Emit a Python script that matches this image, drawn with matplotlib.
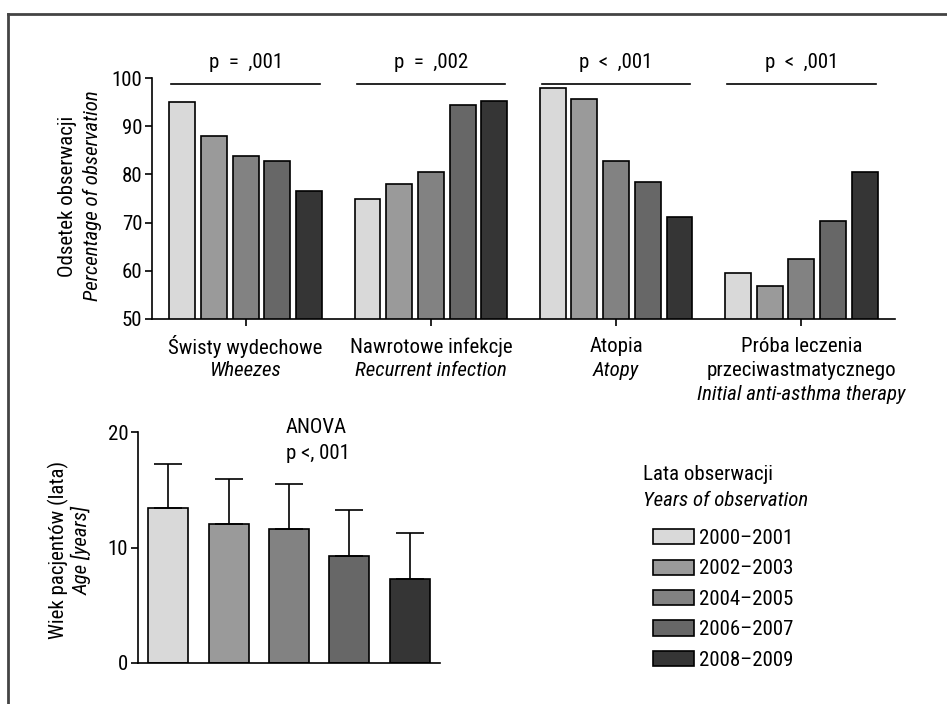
import numpy as np
import matplotlib
matplotlib.use("Agg")
import matplotlib.pyplot as plt
from matplotlib import font_manager as fm
from matplotlib.patches import Patch
from matplotlib.lines import Line2D
import matplotlib.transforms as mtransforms

# pick a narrow sans if one is installed, otherwise DejaVu a bit smaller
fonts = fm.fontManager.ttflist
names = {f.name for f in fonts}
narrow = None
for cand in ["Liberation Sans Narrow", "Roboto Condensed", "Open Sans Condensed", "Arial Narrow"]:
    if cand in names:
        narrow = cand
        break
fs = 15
if narrow:
    plt.rcParams['font.family'] = [narrow, 'DejaVu Sans']
elif any(f.name in ("Roboto", "DejaVu Sans", "Liberation Sans") and f.stretch == "condensed" for f in fonts):
    cond = [f.name for f in fonts if f.stretch == "condensed"][0]
    plt.rcParams['font.family'] = [cond, 'DejaVu Sans']
    plt.rcParams['font.stretch'] = 'condensed'
else:
    plt.rcParams['font.family'] = ['DejaVu Sans']
    fs = 13
plt.rcParams['font.size'] = fs

years = ["2000\u20132001", "2002\u20132003", "2004\u20132005", "2006\u20132007", "2008\u20132009"]
colors = ["#d9d9d9", "#9a9a9a", "#828282", "#676767", "#353535"]

cat_pl = [["\u015awisty wydechowe"], ["Nawrotowe infekcje"], ["Atopia"],
          ["Pr\u00f3ba leczenia", "przeciwastmatycznego"]]
cat_en = ["Wheezes", "Recurrent infection", "Atopy", "Initial anti-asthma therapy"]
p_labels = ["p  =  ,001", "p  =  ,002", "p  <  ,001", "p  <  ,001"]

# percentage per group, one list per observation period
pct = [
    [95.1, 75.0, 98.0, 59.6],
    [88.0, 78.1, 95.6, 56.9],
    [83.9, 80.6, 82.8, 62.4],
    [82.8, 94.5, 78.4, 70.4],
    [76.6, 95.2, 71.2, 80.4],
]

age_mean = [13.45, 12.07, 11.58, 9.27, 7.27]
age_sd = [3.8, 3.9, 3.9, 4.0, 4.0]

W, H = 947, 704
fig = plt.figure(figsize=(W / 100, H / 100), dpi=100)

def fx(px):
    return px / W

def fy(py):
    return 1 - py / H

# outer frame (top and left visible)
fig.add_artist(Line2D([fx(8), 1.0], [fy(14), fy(14)], color="#444444", lw=2))
fig.add_artist(Line2D([fx(8), fx(8)], [fy(14), 0.0], color="#444444", lw=2))

# ---- top chart ----
ax = fig.add_axes([fx(152), fy(319), fx(895) - fx(152), fy(78) - fy(319)])
x = np.arange(4)
step = 0.171
width = 0.14
for i in range(5):
    ax.bar(x + (i - 2) * step, pct[i], width, bottom=0, color=colors[i],
           edgecolor="black", linewidth=1.2)
ax.set_ylim(50, 100)
ax.set_xlim(-0.505, 3.505)
ax.set_yticks([50, 60, 70, 80, 90, 100])
ax.set_xticks(x)
ax.set_xticklabels([])
ax.spines['top'].set_visible(False)
ax.spines['right'].set_visible(False)
ax.tick_params(axis='y', length=5, width=1.2, pad=2, labelsize=fs)
ax.tick_params(axis='x', length=5, width=1.2)
for s in ['left', 'bottom']:
    ax.spines[s].set_linewidth(1.2)

for g in range(4):
    ax.plot([g - 0.4, g + 0.4], [98.8, 98.8], color="black", lw=1.2, clip_on=False)
    ax.text(g, 103.2, p_labels[g], ha="center", va="center", fontsize=fs)

trans = mtransforms.blended_transform_factory(ax.transData, ax.transAxes)
line_y = [-0.116, -0.215, -0.314]
for g in range(4):
    lines = cat_pl[g]
    for k, t in enumerate(lines):
        ax.text(g, line_y[k], t, transform=trans, ha="center", va="center", fontsize=fs)
    ax.text(g, line_y[len(lines)], cat_en[g], transform=trans, ha="center", va="center",
            fontsize=fs, style="italic")

fig.text(fx(67), fy(196), "Odsetek obserwacji", rotation=90, ha="center", va="center", fontsize=fs)
fig.text(fx(92), fy(196), "Percentage of observation", rotation=90, ha="center", va="center",
         fontsize=fs, style="italic")

# ---- bottom chart ----
ax2 = fig.add_axes([fx(138), fy(663), fx(440) - fx(138), fy(432) - fy(663)])
xb = np.arange(5)
ax2.bar(xb, age_mean, 0.66, color=colors, edgecolor="black", linewidth=1.2)
ax2.errorbar(xb, age_mean, yerr=[np.zeros(5), age_sd], fmt="none", ecolor="black",
             elinewidth=1.2, capsize=10, capthick=1.2)
ax2.set_ylim(0, 20)
ax2.set_xlim(-0.5, 4.5)
ax2.set_yticks([0, 10, 20])
ax2.set_xticks([])
ax2.spines['top'].set_visible(False)
ax2.spines['right'].set_visible(False)
for s in ['left', 'bottom']:
    ax2.spines[s].set_linewidth(1.2)
ax2.tick_params(axis='y', length=5, width=1.2, pad=2, labelsize=fs)

ax2.text(1.95, 20.4, "ANOVA", ha="left", va="center", fontsize=fs, clip_on=False)
ax2.text(1.95, 18.1, "p <, 001", ha="left", va="center", fontsize=fs, clip_on=False)

fig.text(fx(58), fy(550), "Wiek pacjent\u00f3w (lata)", rotation=90, ha="center", va="center", fontsize=fs)
fig.text(fx(82), fy(550), "Age [years]", rotation=90, ha="center", va="center",
         fontsize=fs, style="italic")

# ---- legend ----
fig.text(fx(643), fy(475), "Lata obserwacji", ha="left", va="center", fontsize=fs)
fig.text(fx(643), fy(500), "Years of observation", ha="left", va="center", fontsize=fs,
         style="italic")
handles = [Patch(facecolor=colors[i], edgecolor="black", linewidth=1.2, label=years[i])
           for i in range(5)]
fig.legend(handles=handles, loc="upper left", bbox_to_anchor=(fx(653), fy(529)),
           frameon=False, handlelength=1.95, handleheight=0.75, handletextpad=0.25,
           labelspacing=0.55, fontsize=fs, borderaxespad=0, borderpad=0)

fig.savefig("out.png", dpi=100)
